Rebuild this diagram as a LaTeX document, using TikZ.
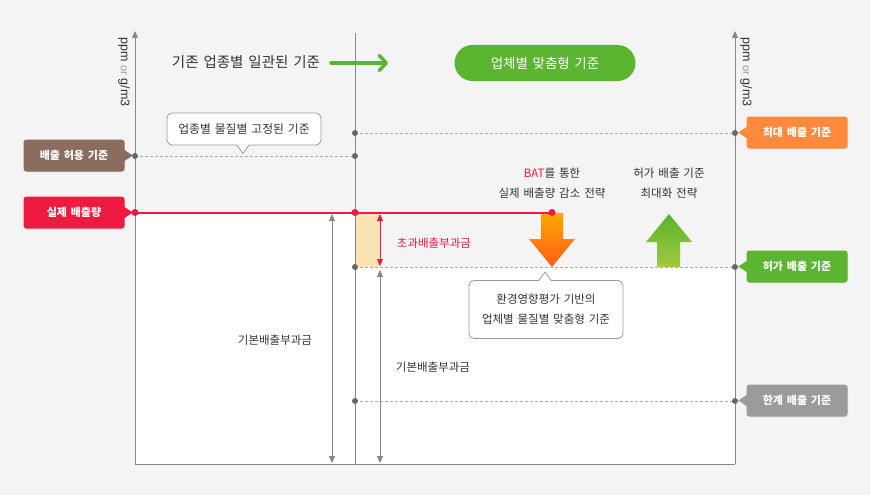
\documentclass[tikz,border=0pt]{standalone}
\usepackage{fontspec}
\setmainfont{Noto Sans CJK KR}[WordSpace=1.5]
\newfontfamily\unitfont{Liberation Sans}
\usepackage{xcolor}
\usetikzlibrary{arrows.meta,positioning,calc,shadows}

\definecolor{bgGray}{HTML}{F4F4F4}
\definecolor{axisGray}{HTML}{888888}
\definecolor{dotGray}{HTML}{666666}
\definecolor{dashGray}{HTML}{AAAAAA}
\definecolor{noteGray}{HTML}{999999}
\definecolor{txtDark}{HTML}{333333}
\definecolor{actRed}{HTML}{EE1A3F}
\definecolor{permBrown}{HTML}{8B6D60}
\definecolor{maxOrange}{HTML}{FF8A3D}
\definecolor{okGreen}{HTML}{5CB531}
\definecolor{limGray}{HTML}{9B9B9B}
\definecolor{excessFill}{HTML}{FAE3B2}
\definecolor{batTop}{HTML}{FFA800}
\definecolor{batBot}{HTML}{FF5C1A}
\definecolor{upTop}{HTML}{58B42D}
\definecolor{upBot}{HTML}{A6C842}

\begin{document}
\begin{tikzpicture}[x=1pt, y=-1pt,
    tag/.style={rectangle, rounded corners=3pt, text=white, inner sep=0pt,
        minimum width=101pt, minimum height=32pt,
        font=\fontsize{11}{13}\selectfont\bfseries,
        drop shadow={shadow xshift=0.6pt, shadow yshift=-0.8pt, opacity=0.18}},
    note/.style={rectangle, rounded corners=5pt, draw=noteGray, fill=white,
        line width=0.8pt, align=center, text=txtDark, inner sep=0pt,
        font=\fontsize{11.5}{20}\selectfont},
    caption/.style={text=txtDark, align=center, font=\fontsize{11.5}{20}\selectfont},
    unit/.style={rotate=-90, text=txtDark, font=\unitfont\fontsize{12.5}{14}\selectfont},
    axis/.style={draw=axisGray, line width=1pt},
    guide/.style={draw=dashGray, line width=0.7pt, dash pattern=on 3pt off 2pt},
    gauge/.style={draw=axisGray, line width=0.9pt,
        {Triangle[length=7pt,width=6pt]}-{Triangle[length=7pt,width=6pt]}}
]
\useasboundingbox (0,0) rectangle (870,495);
\fill[bgGray] (0,0) rectangle (870,495);

% chart areas
\fill[white] (135,212.5) rectangle (355,464);
\fill[white] (355,267) rectangle (735,464);
\fill[excessFill] (355,212.5) rectangle (380,267);

% axes
\coordinate (origin) at (135,464);
\coordinate (leftTop) at (135,31);
\coordinate (midTop) at (355,33);
\coordinate (midBot) at (355,464);
\coordinate (rightBot) at (735,464);
\coordinate (rightTop) at (735,31);
\draw[axis] (origin) -- (rightBot);
\draw[axis] (midBot) -- (midTop);
\draw[axis, -{Triangle[length=7pt,width=6pt]}] (origin) -- (leftTop);
\draw[axis, -{Triangle[length=7pt,width=6pt]}] (rightBot) -- (rightTop);

\node[unit] (unitLeft) at (124,72) {ppm {\color{noteGray}\fontsize{11}{12}\selectfont or} g/m3};
\node[unit] (unitRight) at (746,72) {ppm {\color{noteGray}\fontsize{11}{12}\selectfont or} g/m3};

% headline
\node[text=txtDark, font=\fontsize{14.5}{16}\selectfont] (oldStd) at (246,62) {기존 업종별 일관된 기준};
\node[rectangle, rounded corners=18pt, fill=okGreen, text=white, minimum width=181pt,
    minimum height=36pt, font=\fontsize{13.5}{15}\selectfont] (customPill) at (545,63) {업체별 맞춤형 기준};
\coordinate (shiftFrom) at (331,63);
\coordinate (shiftTo) at (388,63);
\draw[okGreen, line width=3.5pt, line cap=round,
    -{Straight Barb[length=7pt,width=15pt,round]}] (shiftFrom) -- (shiftTo);

% level points
\coordinate (permL) at (135,156);
\coordinate (permM) at (355,156);
\coordinate (maxM) at (355,133);
\coordinate (maxR) at (735,133);
\coordinate (actL) at (135,212.5);
\coordinate (actM) at (355,212.5);
\coordinate (actE) at (552,212.5);
\coordinate (okM) at (355,267);
\coordinate (okR) at (735,267);
\coordinate (limM) at (355,401);
\coordinate (limR) at (735,401);

% strategy arrows
\shade[top color=batTop, bottom color=batBot]
    (541,213) -- (563,213) -- (563,239) -- (575,239) -- (552,267) -- (529,239) -- (541,239) -- cycle;
\shade[top color=upTop, bottom color=upBot]
    (657,267) -- (680,267) -- (680,242) -- (692,242) -- (669,214) -- (646,242) -- (657,242) -- cycle;

\draw[guide] (permL) -- (permM);
\draw[guide] (maxM) -- (maxR);
\draw[guide] (okM) -- (okR);
\draw[guide] (limM) -- (limR);
\draw[actRed, line width=2pt] (actL) -- (actE);

\foreach \p in {permL,permM,maxM,maxR,okM,okR,limM,limR}
    \fill[dotGray] (\p) circle (3pt);
\foreach \p in {actL,actM,actE}
    \fill[actRed] (\p) circle (3.5pt);

% level tags
\node[tag, fill=permBrown] (permTag) at (74,155.5) {배출 허용 기준};
\node[tag, fill=actRed] (actTag) at (74,212.5) {실제 배출량};
\node[tag, fill=maxOrange] (maxTag) at (797,132.5) {최대 배출 기준};
\node[tag, fill=okGreen] (okTag) at (797,266.5) {허가 배출 기준};
\node[tag, fill=limGray] (limTag) at (797,400.5) {한계 배출 기준};
\foreach \t/\c in {permTag/permBrown, actTag/actRed}
    \fill[\c] ($(\t.east)+(-1,-6)$) -- ($(\t.east)+(8,0)$) -- ($(\t.east)+(-1,6)$) -- cycle;
\foreach \t/\c in {maxTag/maxOrange, okTag/okGreen, limTag/limGray}
    \fill[\c] ($(\t.west)+(1,-6)$) -- ($(\t.west)+(-8,0)$) -- ($(\t.west)+(1,6)$) -- cycle;

% callouts
\node[note, minimum width=154pt, minimum height=32pt, font=\fontsize{11.8}{14}\selectfont] (fixedNote) at (244,129) {업종별 물질별 고정된 기준};
\fill[white] ($(fixedNote.south)+(-7,-1)$) -- ($(fixedNote.south)+(-1,8)$) -- ($(fixedNote.south)+(5,-1)$) -- cycle;
\draw[noteGray, line width=0.8pt] ($(fixedNote.south)+(-7,0)$) -- ($(fixedNote.south)+(-1,8)$) -- ($(fixedNote.south)+(5,0)$);

\node[note, minimum width=154pt, minimum height=58pt] (customNote) at (546,309.5) {환경영향평가 기반의\\업체별 물질별 맞춤형 기준};
\fill[white] ($(customNote.north)+(-7,1)$) -- ($(customNote.north)+(-1,-8)$) -- ($(customNote.north)+(5,1)$) -- cycle;
\draw[noteGray, line width=0.8pt] ($(customNote.north)+(-7,0)$) -- ($(customNote.north)+(-1,-8)$) -- ($(customNote.north)+(5,0)$);

% charges
\coordinate (baseTopL) at (332,214);
\coordinate (baseBotL) at (332,463);
\coordinate (baseTopR) at (380,270);
\coordinate (baseBotR) at (380,463);
\coordinate (excessTop) at (380,214);
\coordinate (excessBot) at (380,266);
\draw[gauge] (baseTopL) -- (baseBotL);
\draw[gauge] (baseTopR) -- (baseBotR);
\draw[gauge, draw=actRed, fill=actRed] (excessTop) -- (excessBot);

\node[caption] (baseChargeL) at (275,340) {기본배출부과금};
\node[caption] (baseChargeR) at (433,367) {기본배출부과금};
\node[caption, text=actRed] (excessCharge) at (434,243) {초과배출부과금};

% strategies
\node[caption] (batText) at (552,183) {{\color{actRed}BAT}를 통한\\실제 배출량 감소 전략};
\node[caption] (maxText) at (669,183) {허가 배출 기준\\최대화 전략};
\end{tikzpicture}
\end{document}
